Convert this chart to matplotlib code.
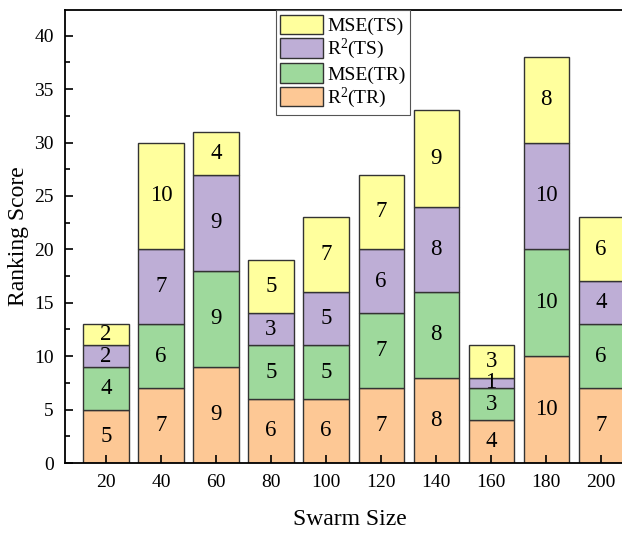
import matplotlib
matplotlib.use("Agg")
import matplotlib.pyplot as plt
from matplotlib.ticker import MultipleLocator
import numpy as np

plt.rcParams['font.family'] = ['Liberation Serif', 'DejaVu Serif']
plt.rcParams['mathtext.fontset'] = 'custom'
plt.rcParams['mathtext.rm'] = 'Liberation Serif'
plt.rcParams['mathtext.it'] = 'Liberation Serif:italic'

swarm_sizes = ["20", "40", "60", "80", "100", "120", "140", "160", "180", "200"]
r2_tr = [5, 7, 9, 6, 6, 7, 8, 4, 10, 7]
mse_tr = [4, 6, 9, 5, 5, 7, 8, 3, 10, 6]
r2_ts = [2, 7, 9, 3, 5, 6, 8, 1, 10, 4]
mse_ts = [2, 10, 4, 5, 7, 7, 9, 3, 8, 6]

series = [
    ("R$^{2}$(TR)", r2_tr, "#FDC895"),
    ("MSE(TR)", mse_tr, "#9ED99C"),
    ("R$^{2}$(TS)", r2_ts, "#BEAED6"),
    ("MSE(TS)", mse_ts, "#FFFF9D"),
]

fig = plt.figure(figsize=(6.22, 5.33), dpi=100)
# the right edge of the plot runs past the picture, as in the original
ax = fig.add_axes([0.1045, 0.1313, 0.915, 0.8499])

x = np.arange(len(swarm_sizes))
bottom = np.zeros(len(swarm_sizes))
for label, vals, color in series:
    vals = np.array(vals, dtype=float)
    ax.bar(x, vals, width=0.82, bottom=bottom, color=color,
           edgecolor="#333333", linewidth=1.0, label=label)
    for xi, v, b0 in zip(x, vals, bottom):
        ax.text(xi, b0 + v / 2, f"{int(v)}", ha="center", va="center",
                fontsize=16.5)
    bottom += vals

ax.set_xlim(-0.745, 9.6)
ax.set_ylim(0, 42.4)
ax.set_xticks(x)
ax.set_xticklabels(swarm_sizes)
ax.yaxis.set_major_locator(MultipleLocator(5))
ax.yaxis.set_minor_locator(MultipleLocator(2.5))
ax.tick_params(axis="both", which="both", direction="in", labelsize=14,
               top=False, right=False)
ax.tick_params(axis="both", which="major", length=6, width=1.2, pad=8)
ax.tick_params(axis="y", which="minor", length=3.5, width=1.2)
ax.tick_params(axis="x", which="minor", bottom=False)
for s in ax.spines.values():
    s.set_linewidth(1.3)

ax.set_xlabel("Swarm Size", fontsize=17, labelpad=13)
ax.set_ylabel("Ranking Score", fontsize=17, labelpad=4)

handles, labels = ax.get_legend_handles_labels()
leg = ax.legend(handles[::-1], labels[::-1], loc="upper left",
                bbox_to_anchor=(0.37, 1.0), borderaxespad=0, fontsize=14,
                fancybox=False, edgecolor="#555555", framealpha=1,
                handlelength=2.2, handleheight=1.15, labelspacing=0.1,
                handletextpad=0.2, borderpad=0.25)
leg.get_frame().set_linewidth(0.8)

fig.savefig("out.png", dpi=100)
